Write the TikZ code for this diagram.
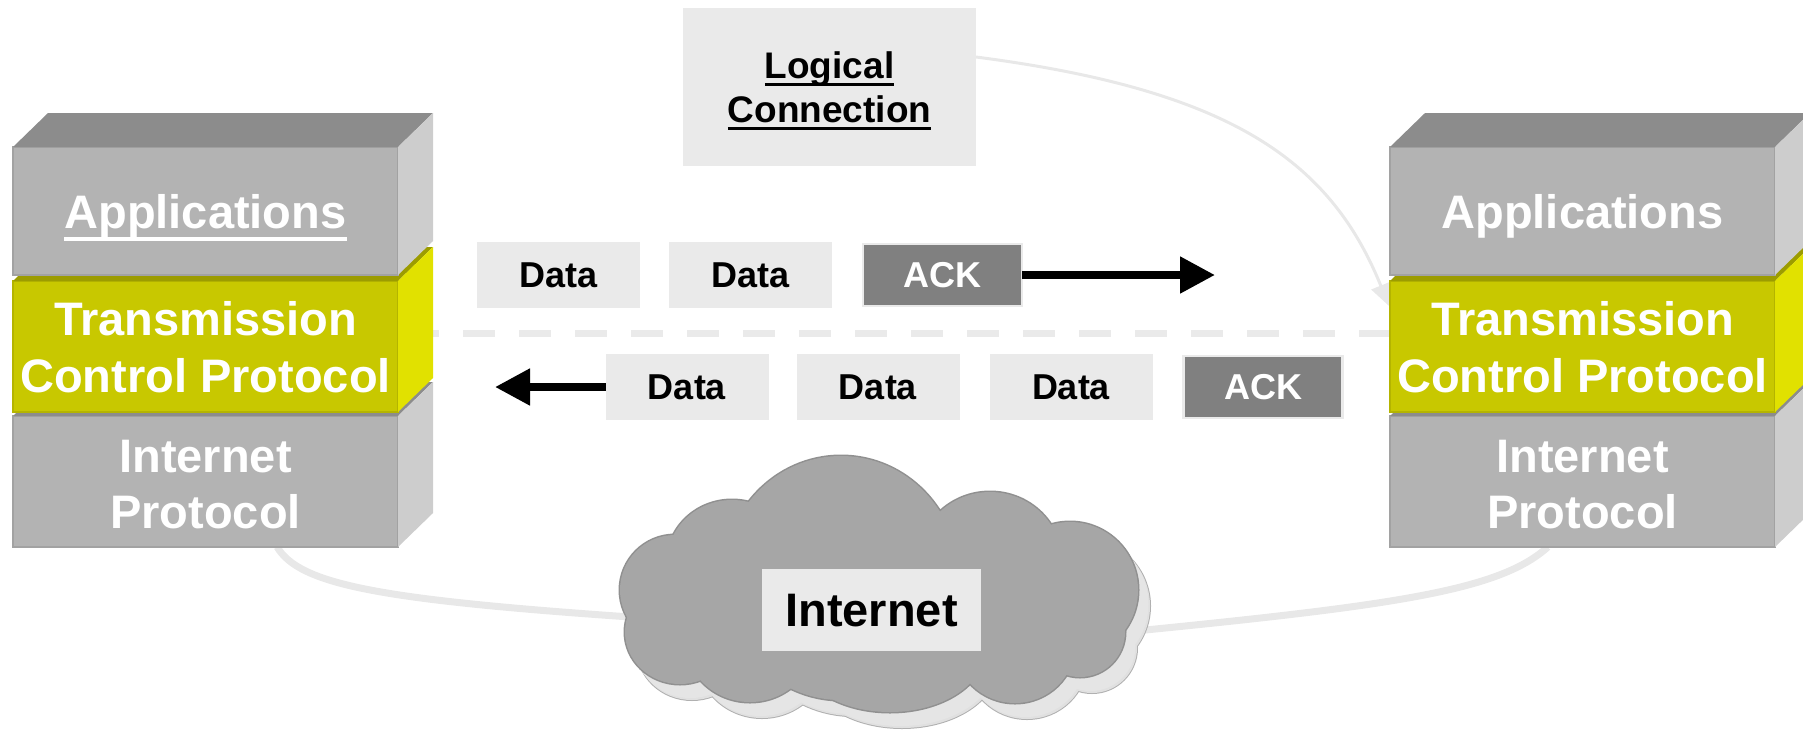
\documentclass[tikz,border=0pt]{standalone}
\usepackage{fontspec}
\setmainfont{Liberation Sans}
\usetikzlibrary{arrows.meta,calc}

\definecolor{stackgray}{HTML}{B3B3B3}
\definecolor{stacktop}{HTML}{8C8C8C}
\definecolor{stackside}{HTML}{CDCDCD}
\definecolor{stackedge}{HTML}{A2A2A2}
\definecolor{tcpfront}{HTML}{C8C800}
\definecolor{tcptop}{HTML}{9C9C00}
\definecolor{tcpside}{HTML}{E1E100}
\definecolor{tcpedge}{HTML}{B4B400}
\definecolor{paper}{HTML}{EAEAEA}
\definecolor{ackgray}{HTML}{808080}
\definecolor{wire}{HTML}{E8E8E8}
\definecolor{cloudface}{HTML}{A6A6A6}
\definecolor{cloudedge}{HTML}{909090}
\definecolor{cloudside}{HTML}{E0E0E0}
\definecolor{cloudsideedge}{HTML}{B0B0B0}

\pgfdeclarelayer{back}
\pgfsetlayers{back,main}

% text with a heavy underline: #1 = drop below baseline, #2 = thickness
\newcommand\thickul[3]{\setbox0=\hbox{#3}\rlap{\rule[-#1]{\wd0}{#2}}\box0}

% top and right faces of a layer block, built on its front node
\newcommand\boxfaces[3]{%
  \fill[#2] (#1.north west) -- ++(35,-34) -- ++(385,0) -- (#1.north east) -- cycle;
  \fill[#3] (#1.north east) -- ++(35,-34) -- ([shift={(35,-34)}]#1.south east) -- (#1.south east) -- cycle;}

% lobes of the cloud: centre x / centre y / x radius / y radius
\def\cloudlobes{880/595/200/85, 841/578/118/122, 732/562/65/62, 675/590/55/55,
  680/632/55/52, 750/640/65/62, 890/650/95/62, 1015/645/60/58,
  1080/632/45/45, 1070/590/68/68, 990/562/72/70}

% the union of all lobes, shifted by (#1,#2), filled with #3, outlined with #4
\newcommand\cloudunion[4]{%
  \begin{scope}[shift={(#1,#2)}]
    \foreach \cx/\cy/\rx/\ry in \cloudlobes
      {\draw[#4] (\cx,\cy) ellipse [x radius=\rx pt, y radius=\ry pt];}
    \foreach \cx/\cy/\rx/\ry in \cloudlobes
      {\fill[#3] (\cx,\cy) ellipse [x radius=\rx pt, y radius=\ry pt];}
  \end{scope}}

% the same union, filled only
\newcommand\cloudfill[3]{%
  \begin{scope}[shift={(#1,#2)}]
    \foreach \cx/\cy/\rx/\ry in \cloudlobes
      {\fill[#3] (\cx,\cy) ellipse [x radius=\rx pt, y radius=\ry pt];}
  \end{scope}}

\begin{document}
\begin{tikzpicture}[x=1pt, y=-1pt,
  every node/.style={inner sep=0pt, outer sep=0pt},
  stackface/.style={draw=stackedge, fill=stackgray, line width=1.2pt, minimum width=385pt},
  tcpface/.style={draw=tcpedge, fill=tcpfront, line width=1.2pt, minimum width=385pt},
  stacktext/.style={anchor=base, text=white, font=\fontsize{47pt}{56pt}\selectfont\bfseries},
  lctext/.style={anchor=base, text=black, font=\fontsize{37pt}{44pt}\selectfont\bfseries},
  pkt/.style={minimum width=163pt, minimum height=66pt,
    font=\fontsize{36pt}{40pt}\selectfont\bfseries, text height=25.8pt, text depth=0pt},
  databox/.style={pkt, fill=paper, text=black},
  ackbox/.style={pkt, fill=ackgray, draw=paper, line width=2.5pt,
    minimum width=159pt, minimum height=62pt, text=white},
  flow/.style={line width=8pt, -{Triangle[length=35pt, width=35pt]}},
  wireline/.style={draw=wire, line width=7pt},
  lcline/.style={draw=wire, line width=3pt, -{Triangle[length=22pt, width=20pt]}},
  dashline/.style={draw=paper, line width=7pt, dash pattern=on 32pt off 24pt},
]
\useasboundingbox (0,0) rectangle (1803,748);

% ---- left host stack ----
\node[stackface, minimum height=131pt] (ipL) at (205.5,481.5) {};
\boxfaces{ipL}{stacktop}{stackside}
\node[tcpface, minimum height=131pt] (tcpL) at (205.5,346.5) {};
\boxfaces{tcpL}{tcptop}{tcpside}
\node[stackface, minimum height=128pt] (appL) at (205.5,211) {};
\boxfaces{appL}{stacktop}{stackside}

\node[stacktext] (appLt) at (205.5,228) {\thickul{13pt}{4pt}{Applications}};
\node[stacktext] (tcpLt1) at (205.5,335) {Transmission};
\node[stacktext] (tcpLt2) at (205.5,392) {Control Protocol};
\node[stacktext] (ipLt1) at (205.5,472) {Internet};
\node[stacktext] (ipLt2) at (205.5,528) {Protocol};

% ---- right host stack ----
\node[stackface, minimum height=131pt] (ipR) at (1582.5,481.5) {};
\boxfaces{ipR}{stacktop}{stackside}
\node[tcpface, minimum height=131pt] (tcpR) at (1582.5,346.5) {};
\boxfaces{tcpR}{tcptop}{tcpside}
\node[stackface, minimum height=128pt] (appR) at (1582.5,211) {};
\boxfaces{appR}{stacktop}{stackside}

\node[stacktext] (appRt) at (1582.5,228) {Applications};
\node[stacktext] (tcpRt1) at (1582.5,335) {Transmission};
\node[stacktext] (tcpRt2) at (1582.5,392) {Control Protocol};
\node[stacktext] (ipRt1) at (1582.5,472) {Internet};
\node[stacktext] (ipRt2) at (1582.5,528) {Protocol};

% ---- logical connection label ----
\node[fill=paper, minimum width=293pt, minimum height=158pt] (lc) at (829.5,87) {};
\node[lctext] (lct1) at (829.5,78) {\thickul{8pt}{3.5pt}{Logical}};
\node[lctext] (lct2) at (829.5,122) {\thickul{8pt}{3.5pt}{Connection}};

% ---- the Internet cloud: extruded edge, then the face ----
\coordinate (cloudL) at (645,618);
\coordinate (cloudR) at (1125,632);
\cloudunion{12}{16}{cloudside}{cloudsideedge, line width=2pt}
\foreach \k in {7,6,...,1}
  {\cloudfill{1.5*\k}{2*\k}{cloudside!85!white}}
\cloudunion{0}{0}{cloudface}{cloudedge, line width=3pt}
\node[fill=paper, minimum width=219pt, minimum height=82pt,
  font=\fontsize{47pt}{56pt}\selectfont\bfseries, text height=33.6pt, text depth=0pt]
  (inet) at (871.5,610) {Internet};

% ---- segments in flight ----
\node[databox] (d11) at (558.5,275) {Data};
\node[databox] (d12) at (750.5,275) {Data};
\node[ackbox] (ack1) at (942.5,275) {ACK};
\coordinate (fwdtip) at (1215,275);
\draw[flow] (ack1.east) -- (fwdtip);

\node[databox] (d21) at (687,387) {Data};
\node[databox] (d22) at (878,387) {Data};
\node[databox] (d23) at (1071,387) {Data};
\node[ackbox] (ack2) at (1263,387) {ACK};
\coordinate (backtip) at (495,387);
\draw[flow] (d21.west) -- (backtip);

% ---- faint links, drawn behind everything ----
\coordinate (dashL) at (407,333.5);
\coordinate (dashR) at (1391,333.5);
\coordinate (lctip) at (1389,306);
\begin{pgfonlayer}{back}
  \draw[wireline] ($(ipL.south west)!0.686!(ipL.south east)$)
    .. controls (300,585) and (380,600) .. (cloudL);
  \draw[wireline] ($(ipR.south west)!0.41!(ipR.south east)$)
    .. controls (1500,590) and (1400,605) .. (cloudR);
  \draw[dashline] (dashL) -- (dashR);
  \draw[lcline] ([yshift=30pt]lc.east) .. controls (1230,90) and (1330,160) .. (lctip);
\end{pgfonlayer}
\end{tikzpicture}
\end{document}
